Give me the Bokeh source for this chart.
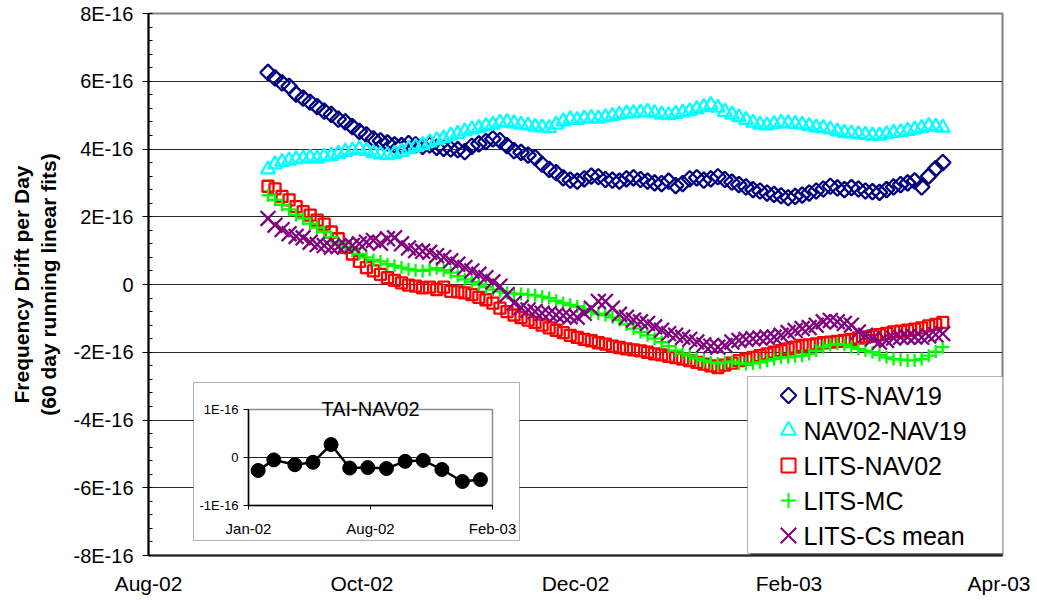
import math
from bokeh.plotting import figure
from bokeh.models import Range1d, FixedTicker, BoxAnnotation, ColumnDataSource
from bokeh.embed import file_html
from bokeh.resources import INLINE
from bokeh.core.properties import value

# ---------------- data ----------------
# days after 1 Aug 2002
day = [34, 36, 38, 40, 42, 44, 46, 48, 50, 52,
       54, 56, 58, 60, 62, 64, 66, 68, 70, 72,
       74, 76, 78, 80, 82, 84, 86, 88, 90, 92,
       94, 96, 98, 100, 102, 104, 106, 108, 110, 112,
       114, 116, 118, 120, 122, 124, 126, 128, 130, 132,
       134, 136, 138, 140, 142, 144, 146, 148, 150, 152,
       154, 156, 158, 160, 162, 164, 166, 168, 170, 172,
       174, 176, 178, 180, 182, 184, 186, 188, 190, 192,
       194, 196, 198, 200, 202, 204, 206, 208, 210, 212,
       214, 216, 218, 220, 222, 224, 226]

# values in units of 1E-16 per day
lits_nav19 = [6.26, 6.10, 5.95, 5.85, 5.62, 5.50, 5.38, 5.25, 5.12, 5.02,
              4.88, 4.80, 4.66, 4.52, 4.42, 4.30, 4.24, 4.18, 4.12, 4.10,
              4.16, 4.12, 4.08, 4.12, 4.05, 4.02, 4.00, 3.98, 3.92, 4.08,
              4.15, 4.22, 4.30, 4.25, 4.10, 3.95, 3.90, 3.82, 3.75, 3.55,
              3.40, 3.30, 3.15, 3.08, 3.05, 3.12, 3.20, 3.18, 3.10, 3.08,
              3.05, 3.12, 3.15, 3.10, 3.05, 3.00, 2.98, 3.05, 2.92, 2.98,
              3.12, 3.15, 3.08, 3.12, 3.18, 3.10, 3.02, 2.95, 2.88, 2.80,
              2.76, 2.70, 2.66, 2.62, 2.56, 2.60, 2.64, 2.70, 2.76, 2.82,
              2.90, 2.85, 2.80, 2.86, 2.82, 2.76, 2.74, 2.72, 2.80, 2.88,
              2.95, 3.00, 3.06, 2.88, 3.20, 3.42, 3.60]

nav02_nav19 = [3.40, 3.55, 3.62, 3.66, 3.70, 3.72, 3.75, 3.72, 3.78, 3.80,
               3.86, 3.92, 3.96, 4.00, 3.95, 3.88, 3.84, 3.82, 3.86, 3.92,
               4.00, 4.06, 4.12, 4.20, 4.26, 4.32, 4.40, 4.45, 4.52, 4.58,
               4.62, 4.68, 4.72, 4.78, 4.80, 4.76, 4.72, 4.70, 4.66, 4.64,
               4.62, 4.72, 4.82, 4.88, 4.86, 4.90, 4.92, 4.90, 4.94, 4.98,
               5.02, 5.05, 5.06, 5.08, 5.10, 5.06, 5.02, 5.00, 5.04, 5.08,
               5.12, 5.18, 5.24, 5.30, 5.22, 5.10, 5.02, 4.94, 4.86, 4.78,
               4.72, 4.70, 4.74, 4.78, 4.76, 4.74, 4.72, 4.68, 4.64, 4.62,
               4.58, 4.52, 4.48, 4.46, 4.44, 4.42, 4.40, 4.40, 4.44, 4.48,
               4.50, 4.54, 4.58, 4.62, 4.68, 4.66, 4.63]

lits_nav02 = [2.90, 2.82, 2.60, 2.50, 2.30, 2.15, 2.05, 1.90, 1.78, 1.55,
              1.35, 1.10, 0.90, 0.68, 0.50, 0.40, 0.30, 0.20, 0.12, 0.05,
              -0.02, -0.05, -0.10, -0.08, -0.15, -0.08, -0.20, -0.22, -0.25, -0.30,
              -0.38, -0.45, -0.55, -0.70, -0.80, -0.90, -0.98, -1.05, -1.12, -1.20,
              -1.28, -1.35, -1.42, -1.50, -1.56, -1.62, -1.66, -1.72, -1.76, -1.82,
              -1.86, -1.90, -1.93, -1.96, -2.00, -2.05, -2.08, -2.12, -2.16, -2.20,
              -2.25, -2.30, -2.35, -2.40, -2.45, -2.38, -2.32, -2.25, -2.20, -2.15,
              -2.10, -2.05, -2.00, -1.95, -1.90, -1.85, -1.80, -1.78, -1.75, -1.72,
              -1.70, -1.68, -1.65, -1.62, -1.58, -1.55, -1.52, -1.48, -1.44, -1.40,
              -1.38, -1.35, -1.32, -1.28, -1.22, -1.18, -1.12]

lits_mc = [2.63, 2.50, 2.35, 2.22, 2.05, 1.95, 1.80, 1.68, 1.55, 1.40,
           1.25, 1.12, 1.00, 0.90, 0.80, 0.72, 0.68, 0.60, 0.55, 0.50,
           0.45, 0.42, 0.40, 0.44, 0.48, 0.42, 0.35, 0.25, 0.15, 0.08,
           0.00, -0.08, -0.15, -0.20, -0.25, -0.27, -0.28, -0.30, -0.32, -0.36,
           -0.40, -0.48, -0.55, -0.60, -0.65, -0.72, -0.80, -0.86, -0.90, -0.97,
           -1.05, -1.18, -1.30, -1.40, -1.50, -1.60, -1.70, -1.82, -1.95, -2.04,
           -2.10, -2.18, -2.25, -2.30, -2.33, -2.30, -2.28, -2.33, -2.35, -2.33,
           -2.30, -2.25, -2.20, -2.15, -2.15, -2.12, -2.10, -2.05, -1.95, -1.85,
           -1.78, -1.75, -1.78, -1.85, -1.90, -1.95, -2.00, -2.08, -2.15, -2.20,
           -2.22, -2.24, -2.24, -2.20, -2.10, -1.98, -1.85]

lits_cs_mean = [1.95, 1.75, 1.62, 1.50, 1.42, 1.38, 1.25, 1.18, 1.15, 1.10,
                1.12, 1.15, 1.15, 1.20, 1.25, 1.30, 1.22, 1.35, 1.38, 1.20,
                1.08, 1.00, 0.98, 0.95, 0.85, 0.80, 0.70, 0.60, 0.50, 0.40,
                0.30, 0.20, 0.08, -0.05, -0.30, -0.55, -0.68, -0.75, -0.80, -0.85,
                -0.86, -0.90, -0.92, -0.95, -0.97, -0.85, -0.70, -0.50, -0.50, -0.70,
                -0.88, -0.97, -1.05, -1.10, -1.15, -1.25, -1.35, -1.45, -1.50, -1.56,
                -1.62, -1.70, -1.78, -1.82, -1.85, -1.80, -1.70, -1.65, -1.62, -1.60,
                -1.58, -1.56, -1.55, -1.50, -1.42, -1.36, -1.30, -1.27, -1.20, -1.10,
                -1.06, -1.10, -1.15, -1.20, -1.40, -1.50, -1.60, -1.70, -1.65, -1.58,
                -1.56, -1.55, -1.55, -1.56, -1.52, -1.48, -1.45]

series_names = ["LITS-NAV19", "NAV02-NAV19", "LITS-NAV02", "LITS-MC", "LITS-Cs mean"]

x_tick_pos = [0, 60.75, 121.5, 182.25, 243]
x_tick_labels = ["Aug-02", "Oct-02", "Dec-02", "Feb-03", "Apr-03"]
y_tick_pos = [-8, -6, -4, -2, 0, 2, 4, 6, 8]
y_tick_labels = ["-8E-16", "-6E-16", "-4E-16", "-2E-16", "0", "2E-16", "4E-16", "6E-16", "8E-16"]
y_title = "Frequency Drift per Day\n(60 day running linear fits)"

# inset: TAI-NAV02 (days after 1 Jan 2002, units of 1E-16)
inset_title = "TAI-NAV02"
inset_day = [16, 42, 77, 107, 137, 168, 198, 229, 260, 290, 321, 355, 385]
inset_val = [-0.27, -0.05, -0.15, -0.10, 0.27, -0.22, -0.21, -0.23, -0.08, -0.06, -0.25, -0.50, -0.46]
inset_x_ticks = [0, 202.5, 405]
inset_x_labels = ["Jan-02", "Aug-02", "Feb-03"]
inset_y_ticks = [-1, 0, 1]
inset_y_labels = ["-1E-16", "0", "1E-16"]

# ---------------- styles ----------------
FONT = "Liberation Sans"
# (marker, angle, size in plot, size in legend, colour)
styles = [("square", math.pi / 4, 11, 11, "#000080"),
          ("triangle", 0, 14, 15, "#00FFFF"),
          ("square", 0, 11, 14, "#FF0000"),
          ("cross", 0, 13, 15, "#00FF00"),
          ("x", 0, 21, 22, "#800080")]

# ---------------- layout (page pixels) ----------------
W, H = 1030, 598
PX0, PX1, PY0, PY1 = 148, 1002, 13, 555          # main frame
XMIN, XMAX, YMIN, YMAX = 0, 243, -8, 8


def X(px):
    return XMIN + (px - PX0) * (XMAX - XMIN) / (PX1 - PX0)


def Y(py):
    return YMAX - (py - PY0) * (YMAX - YMIN) / (PY1 - PY0)


IPX0, IPX1, IPY0, IPY1 = 248, 492, 409, 505      # inset plot area
IX0, IX1, IY0, IY1 = 0, 405, -1, 1
isx = (IX1 - IX0) / (IPX1 - IPX0)
isy = (IY1 - IY0) / (IPY1 - IPY0)
ix_range = Range1d(IX0 - (IPX0 - PX0) * isx, IX1 + (PX1 - IPX1) * isx)
iy_range = Range1d(IY0 - (PY1 - IPY1) * isy, IY1 + (IPY0 - PY0) * isy)

LEG_BOX = (747, 1008, 376, 553)                  # left, right, top, bottom
LEG_ROWS = [395, 430, 465, 500, 535]
LEG_GX, LEG_TX = 788, 803

p = figure(width=W, height=H, x_range=Range1d(XMIN, XMAX), y_range=Range1d(YMIN, YMAX),
           output_backend="svg", toolbar_location=None,
           min_border_left=PX0, min_border_right=W - PX1, min_border_top=PY0,
           min_border_bottom=H - PY1,
           background_fill_color="white", border_fill_color="white",
           outline_line_color="#808080", outline_line_width=2)
p.extra_x_ranges = {"ix": ix_range}
p.extra_y_ranges = {"iy": iy_range}

# axes
p.xaxis.ticker = FixedTicker(ticks=x_tick_pos)
p.xaxis.major_label_overrides = dict(zip(x_tick_pos, x_tick_labels))
p.xaxis.major_tick_out = 0
p.xaxis.major_tick_in = 0
p.xaxis.minor_tick_out = 0
p.xaxis.minor_tick_in = 0
p.xaxis.axis_line_width = 2
p.xaxis.axis_line_color = "#222222"
p.xaxis.major_label_standoff = 16
p.xaxis.major_label_text_font = FONT
p.xaxis.major_label_text_font_size = "21px"
p.xaxis.major_label_text_color = "black"

minor = [YMIN + 0.4 * i for i in range(41)]
p.yaxis.ticker = FixedTicker(ticks=y_tick_pos, minor_ticks=minor)
p.yaxis.major_label_overrides = dict(zip(y_tick_pos, y_tick_labels))
p.yaxis.major_tick_out = 6
p.yaxis.major_tick_in = 0
p.yaxis.minor_tick_out = 0
p.yaxis.minor_tick_in = 4
p.yaxis.major_tick_line_color = "black"
p.yaxis.minor_tick_line_color = "black"
p.yaxis.axis_line_width = 2
p.yaxis.axis_line_color = "black"
p.yaxis.major_label_standoff = 9
p.yaxis.major_label_text_font = FONT
p.yaxis.major_label_text_font_size = "20px"
p.yaxis.major_label_text_color = "black"
p.yaxis.axis_label = y_title
p.yaxis.axis_label_text_font = FONT
p.yaxis.axis_label_text_font_style = "bold"
p.yaxis.axis_label_text_font_size = "21px"
p.yaxis.axis_label_text_color = "black"
p.yaxis.axis_label_standoff = 10

p.xgrid.visible = False
p.ygrid.ticker = FixedTicker(ticks=y_tick_pos)
p.ygrid.grid_line_color = "#2a2a2a"
p.ygrid.grid_line_width = 1

# inset white box and legend box (with shadow)
p.add_layout(BoxAnnotation(left=X(193), right=X(519), top=Y(382), bottom=Y(540),
                           fill_color="white", fill_alpha=1, line_color="black", line_width=1,
                           level="underlay"))
lb_l, lb_r, lb_t, lb_b = LEG_BOX
p.add_layout(BoxAnnotation(left=X(lb_l + 3), right=X(lb_r + 3), top=Y(lb_t + 3), bottom=Y(lb_b + 3),
                           fill_color="#555555", fill_alpha=1, line_alpha=0, level="underlay"))
p.add_layout(BoxAnnotation(left=X(lb_l), right=X(lb_r), top=Y(lb_t), bottom=Y(lb_b),
                           fill_color="white", fill_alpha=1, line_color="black", line_width=1,
                           level="underlay"))

# main series
src = ColumnDataSource(dict(day=day, a=lits_nav19, b=nav02_nav19, c=lits_nav02,
                            d=lits_mc, e=lits_cs_mean))
for col, (mk, ang, sz, _, colr) in zip(["a", "b", "c", "d", "e"], styles):
    p.scatter("day", col, source=src, marker=mk, angle=ang, size=sz,
              fill_color=None, line_color=colr, line_width=2.3)

# legend entries
for row, name, (mk, ang, _, lsz, colr) in zip(LEG_ROWS, series_names, styles):
    p.scatter([X(LEG_GX)], [Y(row)], marker=mk, angle=ang, size=lsz,
              fill_color=None, line_color=colr, line_width=2)
p.text(x=[X(LEG_TX)] * len(series_names), y=[Y(r) for r in LEG_ROWS], text=series_names,
       text_align="left", text_baseline="middle", text_font=value(FONT),
       text_font_size="25px", text_color="black")

# ---------------- inset chart ----------------
kw = dict(x_range_name="ix", y_range_name="iy")
p.quad(left=[IX0], right=[IX1], bottom=[IY0], top=[IY1], fill_color=None,
       line_color="#8c8c8c", line_width=1.5, **kw)
p.segment(x0=[IX0], y0=[0], x1=[IX1], y1=[0], line_color="#222222", line_width=1, **kw)
p.segment(x0=[IX0, IX0], y0=[IY0, IY0], x1=[IX0, IX1], y1=[IY1, IY0],
          line_color="black", line_width=1.5, **kw)
p.ray(x=[IX0] * len(inset_y_ticks), y=inset_y_ticks, length=5, length_units="screen",
      angle=math.pi, line_color="black", line_width=1, **kw)
p.ray(x=inset_x_ticks, y=[IY0] * len(inset_x_ticks), length=4, length_units="screen",
      angle=-math.pi / 2, line_color="black", line_width=1, **kw)
p.text(x=[IX0] * len(inset_y_ticks), y=inset_y_ticks, text=inset_y_labels, x_offset=-10,
       text_align="right", text_baseline="middle", text_font=value(FONT),
       text_font_size="13px", text_color="black", **kw)
p.text(x=inset_x_ticks, y=[IY0] * len(inset_x_ticks), text=inset_x_labels, y_offset=14,
       text_align="center", text_baseline="top", text_font=value(FONT),
       text_font_size="15px", text_color="black", **kw)
p.text(x=[(IX0 + IX1) / 2], y=[IY1], text=[inset_title], y_offset=-1,
       text_align="center", text_baseline="alphabetic", text_font=value(FONT),
       text_font_size="20px", text_color="black", **kw)
p.line(inset_day, inset_val, line_color="black", line_width=2.5, **kw)
p.scatter(inset_day, inset_val, size=14, marker="circle", fill_color="black",
          line_color="black", **kw)

open("out.html", "w").write(file_html(p, INLINE))
